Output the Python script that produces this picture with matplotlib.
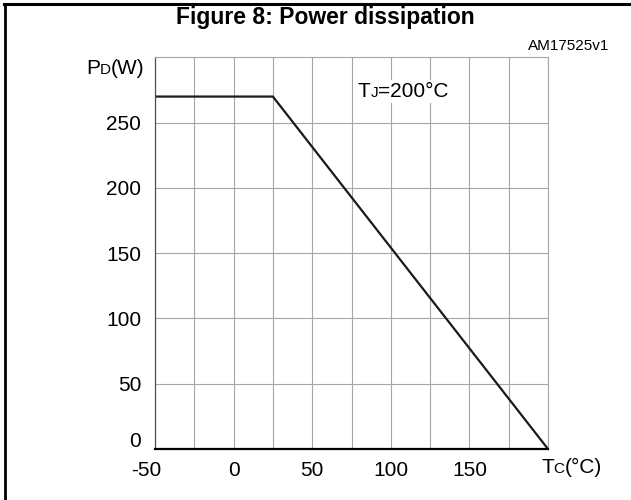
import matplotlib
matplotlib.use("Agg")
from matplotlib import pyplot as plt
from matplotlib.lines import Line2D
from matplotlib.patches import Rectangle
import matplotlib.transforms as mtransforms

# data
tc = [-50, 25, 200]
pd = [270, 270, 0]
x_ticks = [-50, 0, 50, 100, 150]
x_grid = [-50, -25, 0, 25, 50, 75, 100, 125, 150, 175, 200]
y_ticks = [0, 50, 100, 150, 200, 250]

plt.rcParams['font.family'] = ['Liberation Sans', 'DejaVu Sans']
plt.rcParams['axes.unicode_minus'] = False

W, H = 631, 500
fig = plt.figure(figsize=(W / 100, H / 100), dpi=100)
fig.patch.set_facecolor('white')

# axes box in pixels: left 155, right 548, top 57.4, bottom 449
ax = fig.add_axes([155 / W, 1 - 449 / H, (548 - 155) / W, (449 - 57.4) / H])
ax.set_xlim(-50, 200)
ax.set_ylim(0, 300)

ax.set_xticks(x_grid, minor=True)
ax.set_xticks(x_ticks)
ax.set_yticks(y_ticks)
ax.grid(True, which='both', color='#a6a6a6', lw=0.8)
ax.set_axisbelow(True)
ax.tick_params(which='both', length=0, labelsize=15, colors='black')
ax.tick_params(axis='x', pad=9)
ax.tick_params(axis='y', pad=10)

for side in ['top', 'right']:
    ax.spines[side].set_color('#a6a6a6')
    ax.spines[side].set_linewidth(0.8)
ax.spines['left'].set_color('#505050')
ax.spines['left'].set_linewidth(0.9)
ax.spines['bottom'].set_color('black')
ax.spines['bottom'].set_linewidth(1.6)

ax.plot(tc, pd, color='#1a1a1a', lw=1.6, solid_capstyle='butt')

# small per-label shifts seen in the reference
xl = ax.get_xticklabels()
xl[0].set_transform(xl[0].get_transform() +
                    mtransforms.ScaledTranslation(-6 / 72, 0, fig.dpi_scale_trans))
yl = ax.get_yticklabels()
yl[0].set_transform(yl[0].get_transform() +
                    mtransforms.ScaledTranslation(0, 7 / 72, fig.dpi_scale_trans))

renderer = fig.canvas.get_renderer()


def rich_text(x_px, y_px, parts, bg=False):
    """draw pieces of text side by side on one baseline (pixel coords from top-left)"""
    x = x_px
    texts = []
    for s, size in parts:
        t = fig.text(x / W, 1 - y_px / H, s, fontsize=size, ha='left',
                     va='baseline', zorder=5)
        bb = t.get_window_extent(renderer)
        x += bb.width
        texts.append(t)
    if bg:
        bbs = [t.get_window_extent(renderer) for t in texts]
        x0 = min(b.x0 for b in bbs) - 3
        x1 = max(b.x1 for b in bbs) + 3
        y0 = min(b.y0 for b in bbs) - 2
        y1 = max(b.y1 for b in bbs) + 2
        fig.add_artist(Rectangle((x0, y0), x1 - x0, y1 - y0, transform=None,
                                 fc='white', ec='none', zorder=4))
    return texts


# title and id
fig.text(325 / W, 1 - 24 / H, 'Figure 8: Power dissipation', fontsize=16.5,
         fontweight='bold', ha='center', va='baseline')
fig.text(609 / W, 1 - 50 / H, 'AM17525v1', fontsize=11, ha='right',
         va='baseline')

# axis labels with small capital subscripts
rich_text(86, 74, [('P', 15), ('D', 11), ('(W)', 15)])
rich_text(541, 473, [('T', 15), ('C', 11), ('(°C)', 15)])
rich_text(358, 97, [('T', 15), ('J', 11), ('=200°C', 15)], bg=True)

# frame lines on the top and left edge
top = 1 - 4 / H
fig.add_artist(Line2D([4 / W, 1], [top, top], color='black',
                      lw=2.2, transform=fig.transFigure, zorder=10,
                      solid_capstyle='projecting'))
fig.add_artist(Line2D([5 / W, 5 / W], [0, top], color='black',
                      lw=2, transform=fig.transFigure, zorder=10,
                      solid_capstyle='projecting'))

fig.savefig('out.png', dpi=100)
